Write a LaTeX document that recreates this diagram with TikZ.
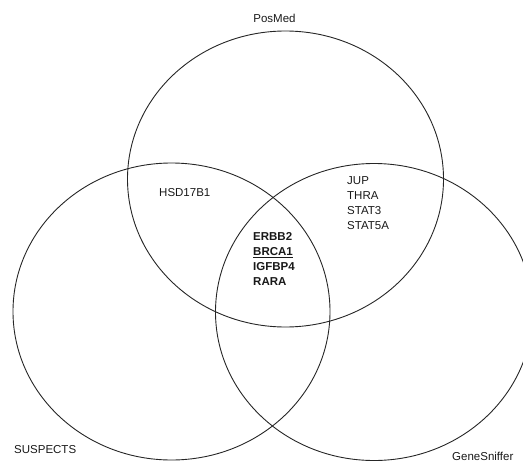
\documentclass[tikz,border=0pt]{standalone}
\usepackage{fontspec}
\setmainfont{Liberation Sans}
\begin{document}
\begin{tikzpicture}[x=1pt,y=-1pt,
  setring/.style={draw=black!85,line width=0.9pt},
  setname/.style={inner sep=0pt,font=\fontsize{11.5}{14}\selectfont,text=black!90},
  genes/.style={inner sep=0pt,align=left,anchor=north west,font=\fontsize{11.5}{15}\selectfont,text=black!90},
  keygenes/.style={genes,font=\fontsize{11.5}{15}\selectfont\bfseries}]
  \useasboundingbox (0,0) rectangle (523,461);
  % the three sets
  \draw[setring] (285.5,179) ellipse [x radius=158, y radius=148];
  \draw[setring] (171.5,311.5) ellipse [x radius=158.5, y radius=148.5];
  \draw[setring] (374,312) ellipse [x radius=158.5, y radius=148.5];
  % set names
  \node[setname,anchor=base] (posmed) at (274.5,22) {PosMed};
  \node[setname,anchor=base west] (suspects) at (14,453) {SUSPECTS};
  \node[setname,anchor=base west] (genesniffer) at (452,460) {GeneSniffer};
  % overlap contents
  \node[setname,anchor=base west] (hsd) at (159,196) {HSD17B1};
  \node[genes] (pg) at (347,176) {JUP\\THRA\\STAT3\\STAT5A};
  \node[keygenes] (core) at (253,232) {ERBB2\\\underline{BRCA1}\\IGFBP4\\RARA};
\end{tikzpicture}
\end{document}
